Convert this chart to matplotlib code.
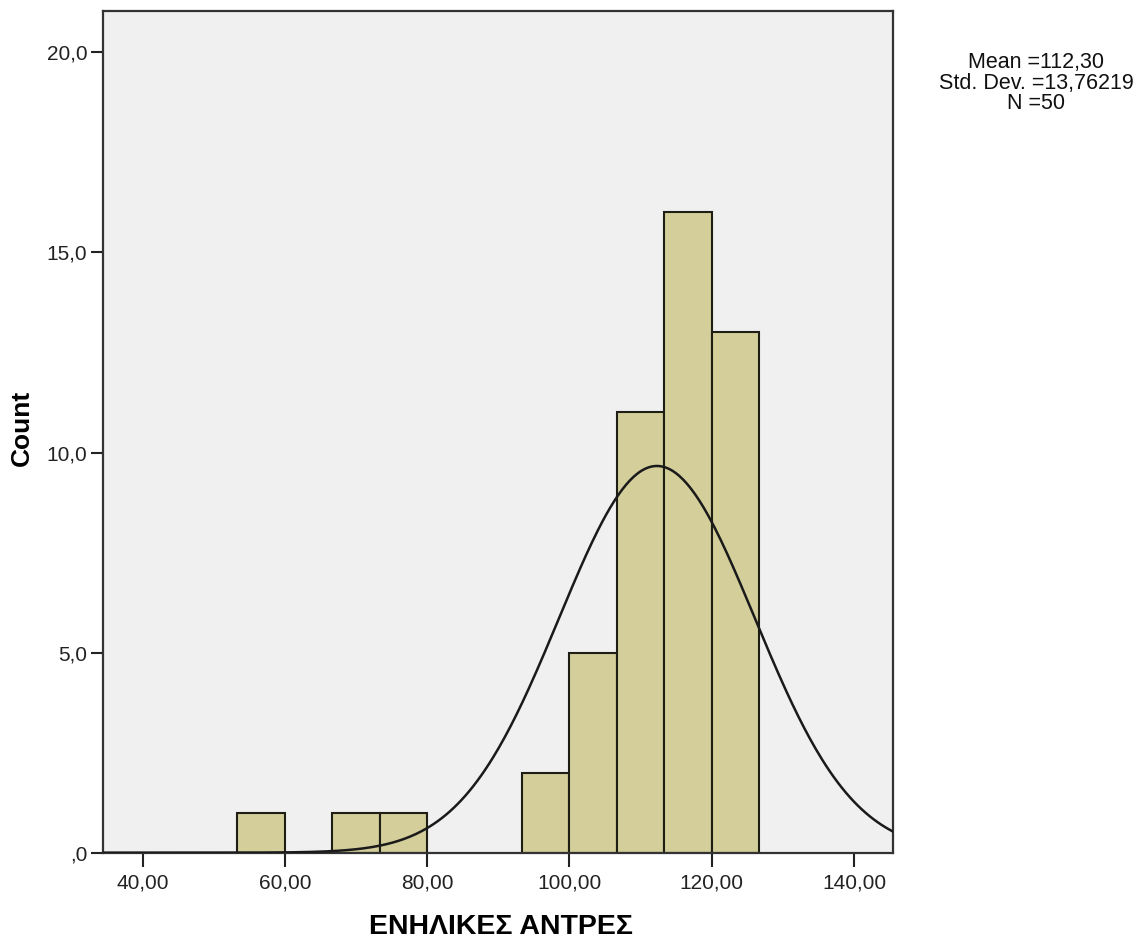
import numpy as np
import matplotlib.pyplot as plt

plt.rcParams['font.family'] = ['Liberation Sans', 'DejaVu Sans']

# histogram bins (left edges) and counts
bin_left = [53.33, 60.00, 66.67, 73.33, 80.00, 86.67, 93.33, 100.00, 106.67, 113.33, 120.00]
counts = [1, 0, 1, 1, 0, 0, 2, 5, 11, 16, 13]
bin_width = 6.667

mean = 112.30
std = 13.76219
n = 50

x_ticks = [40, 60, 80, 100, 120, 140]
x_tick_labels = ['40,00', '60,00', '80,00', '100,00', '120,00', '140,00']
y_ticks = [0, 5, 10, 15, 20]
y_tick_labels = [',0', '5,0', '10,0', '15,0', '20,0']

fig = plt.figure(figsize=(11.46, 9.40), dpi=100)
ax = fig.add_axes([0.0896, 0.0929, 0.6899, 0.8957])
ax.set_facecolor('#f0f0f0')

for left, c in zip(bin_left, counts):
    if c > 0:
        ax.bar(left, c, width=bin_width, align='edge', color='#d3ce9a',
               edgecolor='#1e1e14', linewidth=1.5, zorder=2)

# fitted normal curve, scaled to counts
xs = np.linspace(34.38, 145.53, 400)
ys = n * bin_width * np.exp(-0.5 * ((xs - mean) / std) ** 2) / (std * np.sqrt(2 * np.pi))
ax.plot(xs, ys, color='#1a1a1a', linewidth=1.8, zorder=3)

ax.set_xlim(34.38, 145.53)
ax.set_ylim(0, 21.04)
ax.set_xticks(x_ticks)
ax.set_xticklabels(x_tick_labels)
ax.set_yticks(y_ticks)
ax.set_yticklabels(y_tick_labels)
ax.tick_params(axis='x', direction='out', length=10, width=1.5, pad=5,
               labelsize=15, colors='#222222')
ax.tick_params(axis='y', direction='out', length=9, width=1.5, pad=2,
               labelsize=15, colors='#222222')
for s in ax.spines.values():
    s.set_linewidth(1.6)
    s.set_color('#333333')

fig.text(22 / 1146, 1 - 428 / 940, 'Count', rotation=90, ha='center', va='center',
         fontsize=19, fontweight='bold')
fig.text(501 / 1146, 1 - 927 / 940, 'ΕΝΗΛΙΚΕΣ ΑΝΤΡΕΣ', ha='center', va='center',
         fontsize=20.5, fontweight='bold')

stats = 'Mean =112,30\nStd. Dev. =13,76219\nN =50'
fig.text(1036 / 1146, 1 - 83 / 940, stats, ha='center', va='center',
         fontsize=15.5, linespacing=0.97, color='#111111')

fig.savefig('out.png', dpi=100)
